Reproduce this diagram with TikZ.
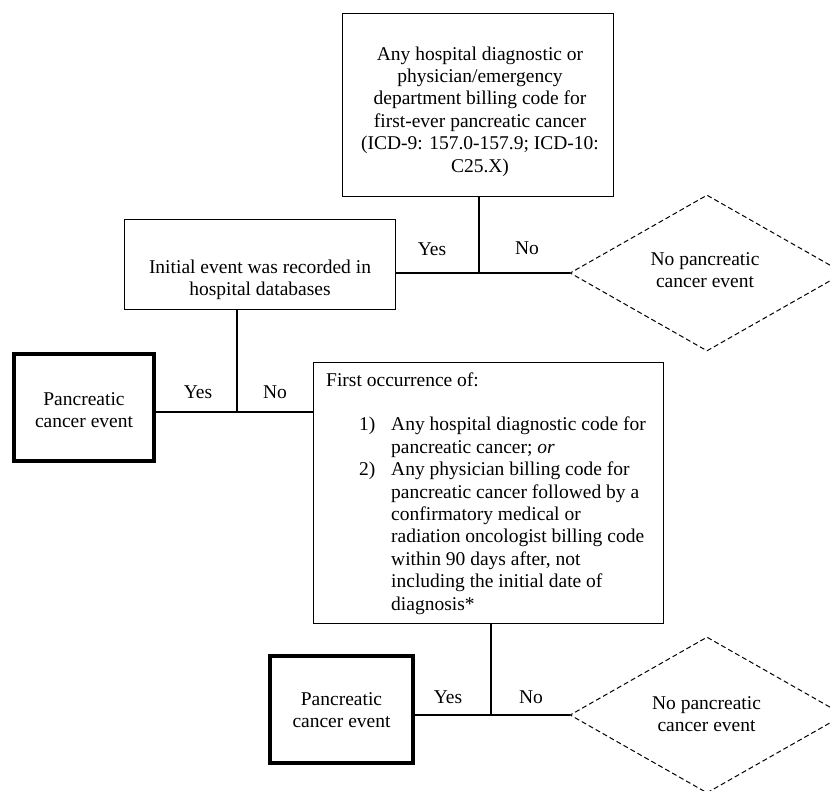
\documentclass[tikz,border=0pt]{standalone}
\usepackage{fontspec}
\setmainfont{Liberation Serif}
\usetikzlibrary{shapes.geometric}
\newcommand{\mlc}[1]{\begin{tabular}[t]{@{}c@{}}#1\end{tabular}}
\begin{document}
\begin{tikzpicture}[x=1pt,y=-1pt,
  font=\fontsize{19.5}{22.4}\selectfont,
  box/.style={draw, line width=1pt, inner sep=0pt},
  thickbox/.style={draw, line width=4pt, inner sep=0pt},
  nobox/.style={diamond, draw, dash pattern=on 5pt off 3pt, line width=1pt, inner sep=0pt, aspect=1.75},
  txt/.style={inner sep=0pt, anchor=base},
  conn/.style={line width=1.6pt},
  lab/.style={inner sep=0pt, anchor=base}]
\useasboundingbox (0,0) rectangle (832,790);
\fill[white] (0,0) rectangle (832,790);

% boxes
\node[box, minimum width=271pt, minimum height=183pt] (top) at (477.5,104.5) {};
\node[txt] (topT) at (480,60) {\mlc{Any hospital diagnostic or\\ physician/emergency\\ department billing code for\\ first-ever pancreatic cancer\\ (ICD-9: 157.0-157.9; ICD-10:\\ C25.X)}};

\node[box, minimum width=271pt, minimum height=90pt] (init) at (259.5,264) {};
\node[txt] (initT) at (260,273) {\mlc{Initial event was recorded in\\ hospital databases}};

\node[nobox, minimum width=274pt, minimum height=156pt] (d1) at (707,273) {};
\node[txt] (d1T) at (705,265) {\mlc{No pancreatic\\ cancer event}};

\node[thickbox, minimum width=140pt, minimum height=107pt] (p1) at (84,407.5) {};
\node[txt] (p1T) at (84,405) {\mlc{Pancreatic\\ cancer event}};

\node[box, minimum width=350pt, minimum height=261pt] (fo) at (488,492.5) {};
\node[txt, anchor=base west] (foT) at (326,386) {First occurrence of:};
\node[txt, anchor=base west] (foL) at (359,430.8) {\begin{tabular}[t]{@{}l@{\hspace{15.8pt}}l@{}}
1) & Any hospital diagnostic code for\\
   & pancreatic cancer; \textit{or}\\
2) & Any physician billing code for\\
   & pancreatic cancer followed by a\\
   & confirmatory medical or\\
   & radiation oncologist billing code\\
   & within 90 days after, not\\
   & including the initial date of\\
   & diagnosis*
\end{tabular}};

\node[thickbox, minimum width=143pt, minimum height=107pt] (p2) at (341.5,709.5) {};
\node[txt] (p2T) at (341.5,705) {\mlc{Pancreatic\\ cancer event}};

\node[nobox, minimum width=274pt, minimum height=156pt] (d2) at (707,715) {};
\node[txt] (d2T) at (706.5,709) {\mlc{No pancreatic\\ cancer event}};

% junctions
\coordinate (j1) at (479,273);
\coordinate (j2) at (237,412);
\coordinate (j3) at (491,715);

% connectors
\draw[conn] (j1 |- top.south) -- (j1);
\draw[conn] (init.east |- j1) -- (d1.west);
\draw[conn] (j2 |- init.south) -- (j2);
\draw[conn] (p1.east |- j2) -- (fo.west |- j2);
\draw[conn] (j3 |- fo.south) -- (j3);
\draw[conn] (p2.east |- j3) -- (d2.west);

% labels
\node[lab] (y1) at (432,255) {Yes};
\node[lab] (n1) at (527,254) {No};
\node[lab] (y2) at (198,398) {Yes};
\node[lab] (n2) at (275,398) {No};
\node[lab] (y3) at (448,703) {Yes};
\node[lab] (n3) at (531,703) {No};
\end{tikzpicture}
\end{document}
